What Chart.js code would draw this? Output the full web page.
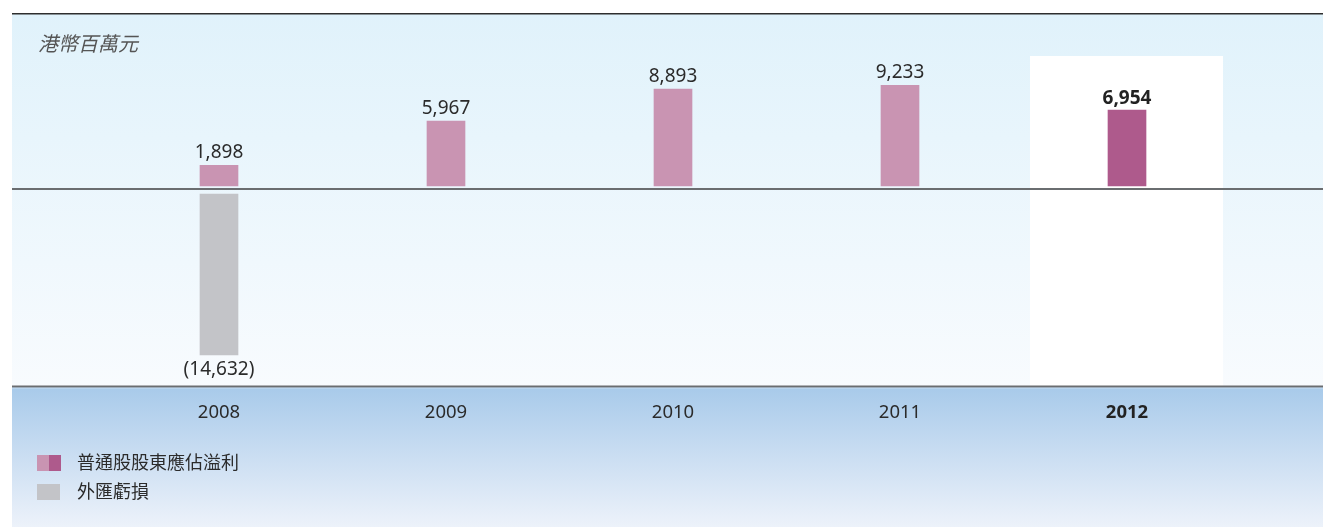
<!DOCTYPE html>
<html><head><meta charset="utf-8">
<script src="https://cdn.jsdelivr.net/npm/chart.js@4.4.1/dist/chart.umd.min.js"></script>
<style>html,body{margin:0;padding:0;background:#fff;}canvas{display:block;}</style>
</head><body>
<canvas id="c" width="1323" height="527"></canvas>
<script>
const years = ['2008', '2009', '2010', '2011', '2012'];
const profitValues = [1898, 5967, 8893, 9233, 6954];
const fxLossValues = [-14632, null, null, null, null];
const seriesNames = ['普通股股東應佔溢利', '外匯虧損'];
const unitLabel = '港幣百萬元';
const highlightIndex = 4;

const LIGHT = '#c994b2', DARK = '#ae5a8c', GREY = '#c3c4c8';
const FONT = "'Noto Sans', 'Noto Sans CJK TC', sans-serif";
const CJK = "'Noto Sans CJK TC', 'Noto Sans', sans-serif";

function fmt(v) {
  const s = Math.abs(v).toLocaleString('en-US');
  return v < 0 ? '(' + s + ')' : s;
}

const decor = {
  id: 'decor',
  beforeDraw(chart) {
    const ctx = chart.ctx, x = chart.scales.x;
    const W = chart.width;
    ctx.save();
    ctx.fillStyle = '#fff';
    ctx.fillRect(0, 0, W, chart.height);
    let g = ctx.createLinearGradient(0, 13, 0, 386);
    g.addColorStop(0, '#e0f2fb');
    g.addColorStop(1, '#f8fbfe');
    ctx.fillStyle = g;
    ctx.fillRect(12, 13, W - 12, 373);
    const cx = x.getPixelForValue(highlightIndex);
    ctx.fillStyle = '#ffffff';
    ctx.fillRect(cx - 97, 56, 193, 330);
    g = ctx.createLinearGradient(0, 387, 0, 527);
    g.addColorStop(0, '#a8caea');
    g.addColorStop(1, '#edf2fa');
    ctx.fillStyle = g;
    ctx.fillRect(12, 387, W - 12, 140);
    ctx.fillStyle = '#2e2e2e';
    ctx.fillRect(12, 13, W - 12, 1.5);
    ctx.fillStyle = '#6a6d70';
    ctx.fillRect(12, 188, W - 12, 2);
    ctx.fillRect(12, 385.5, W - 12, 2);
    ctx.fillStyle = 'rgba(255,255,255,0.35)';
    ctx.fillRect(12, 387.5, W - 12, 1);
    ctx.restore();
  },
  afterDatasetsDraw(chart) {
    const ctx = chart.ctx, x = chart.scales.x;
    ctx.save();
    ctx.textAlign = 'center';
    ctx.textBaseline = 'alphabetic';
    chart.data.datasets.forEach((ds, di) => {
      const meta = chart.getDatasetMeta(di);
      meta.data.forEach((bar, i) => {
        const v = ds.data[i];
        if (v === null || v === undefined) return;
        const bold = i === highlightIndex;
        ctx.font = (bold ? 'bold ' : '') + '19px ' + FONT;
        ctx.fillStyle = bold ? '#222' : '#2b2b2b';
        if (v >= 0) ctx.fillText(fmt(v), bar.x, bar.y - (bold ? 6 : 7));
        else ctx.fillText(fmt(v), bar.x, bar.y + 20);
      });
    });
    years.forEach((yr, i) => {
      const bold = i === highlightIndex;
      ctx.font = (bold ? 'bold ' : '') + '18.5px ' + FONT;
      ctx.fillStyle = bold ? '#222' : '#2b2b2b';
      ctx.fillText(yr, x.getPixelForValue(i), 418);
    });
    ctx.textAlign = 'left';
    ctx.textBaseline = 'middle';
    ctx.font = 'italic 20px ' + CJK;
    ctx.fillStyle = '#555';
    ctx.fillText(unitLabel, 38, 43);
    ctx.fillStyle = LIGHT; ctx.fillRect(37, 455, 12, 16);
    ctx.fillStyle = DARK; ctx.fillRect(49, 455, 12, 16);
    ctx.fillStyle = GREY; ctx.fillRect(37, 484, 23, 16);
    ctx.font = '18px ' + CJK;
    ctx.fillStyle = '#2b2b2b';
    ctx.fillText(seriesNames[0], 77, 462);
    ctx.fillText(seriesNames[1], 77, 491);
    ctx.restore();
  }
};

new Chart(document.getElementById('c'), {
  type: 'bar',
  data: {
    labels: years,
    datasets: [
      {
        label: seriesNames[0],
        data: profitValues,
        backgroundColor: profitValues.map((v, i) => i === highlightIndex ? DARK : LIGHT),
        yAxisID: 'y',
        barThickness: 38,
        grouped: false,
        borderWidth: 0
      },
      {
        label: seriesNames[1],
        data: fxLossValues,
        backgroundColor: GREY,
        yAxisID: 'y2',
        barThickness: 38,
        grouped: false,
        borderWidth: 0
      }
    ]
  },
  options: {
    responsive: false,
    animation: false,
    events: [],
    layout: { padding: { left: 105.5, right: 82.5, top: 13, bottom: 141 } },
    plugins: { legend: { display: false }, tooltip: { enabled: false }, title: { display: false } },
    scales: {
      x: { display: false },
      y: { display: false, min: -18349, max: 15872 },
      y2: { display: false, min: -17455, max: 16455 }
    }
  },
  plugins: [decor]
});
</script>
</body></html>
